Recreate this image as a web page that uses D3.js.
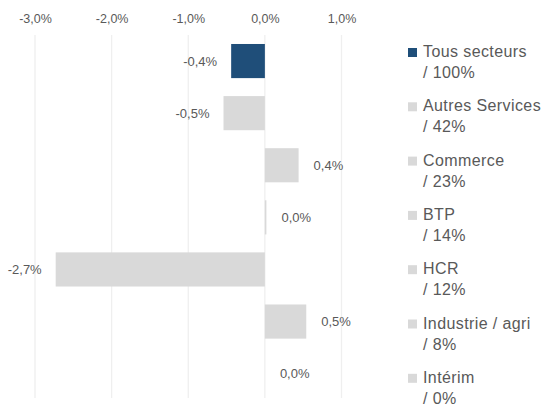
<!DOCTYPE html>
<html><head><meta charset="utf-8">
<script src="https://cdn.jsdelivr.net/npm/d3@7"></script>
<style>body{margin:0;background:#fff;} text{font-family:"Liberation Sans",Arial,sans-serif;fill:#595959;}</style>
</head><body><svg id="c" width="547" height="407"></svg>
<script>
const categories = ["Tous secteurs","Autres Services","Commerce","BTP","HCR","Industrie / agri","Intérim"];
const weights = ["/ 100%","/ 42%","/ 23%","/ 14%","/ 12%","/ 8%","/ 0%"];
const values = [-0.44,-0.54,0.44,0.02,-2.73,0.54,0.0];
const colors = ["#1f4e79","#d9d9d9","#d9d9d9","#d9d9d9","#d9d9d9","#d9d9d9","#d9d9d9"];
const tickValues = [-3,-2,-1,0,1];

const svg = d3.select("#c");
const x = d3.scaleLinear().domain([-3,1]).range([35,341.5]);
const y = d3.scaleBand().domain(categories).range([35,399.7]).paddingInner(0.345).paddingOuter(0.1725);
const fmt = v => d3.format(".1f")(v).replace(".",",").replace("−","-") + "%";

// gridlines
svg.append("g").selectAll("line").data(tickValues).join("line")
  .attr("x1",d=>x(d)).attr("x2",d=>x(d)).attr("y1",35).attr("y2",398)
  .attr("stroke","#efefef").attr("stroke-width",1.3);

// axis
const ax = svg.append("g").attr("transform","translate(0,23)")
  .call(d3.axisTop(x).tickValues(tickValues).tickSize(0).tickPadding(0).tickFormat(fmt));
ax.select(".domain").remove();
ax.selectAll("text").style("font-size","12.5px").attr("fill","#595959").attr("dy",0);

// bars
svg.append("g").selectAll("rect").data(values).join("rect")
  .attr("x",d=>x(Math.min(0,d))).attr("width",d=>Math.abs(x(d)-x(0)))
  .attr("y",(d,i)=>y(categories[i])).attr("height",y.bandwidth())
  .attr("fill",(d,i)=>colors[i]);

// labels
svg.append("g").selectAll("text").data(values).join("text")
  .attr("x",d=> d<0 ? x(d)-14 : x(d)+15)
  .attr("y",(d,i)=>y(categories[i])+y.bandwidth()/2)
  .attr("dy","0.35em")
  .attr("text-anchor",d=> d<0 ? "end":"start")
  .style("font-size","13px")
  .text(fmt);

// legend
const lg = svg.append("g");
categories.forEach((c,i)=>{
  const by = 57 + i*54.3;
  lg.append("rect").attr("x",408).attr("y",by-9).attr("width",9).attr("height",9).attr("fill",colors[i]);
  lg.append("text").attr("x",423).attr("y",by).style("font-size","16px").style("letter-spacing","0.4px").text(c);
  lg.append("text").attr("x",423).attr("y",by+21).style("font-size","16px").style("letter-spacing","0.4px").text(weights[i]);
});
</script></body></html>
